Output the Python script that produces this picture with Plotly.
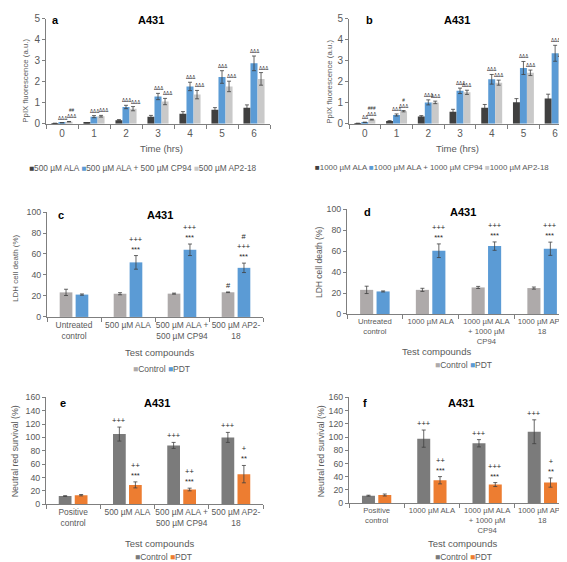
import plotly.graph_objects as go

W, H = 567, 562
FONT = "Liberation Sans, Arial, sans-serif"
TXT = "#595959"
AXC = "#7f7f7f"
ERR = "#404040"

# ---------------- data ----------------
time_cats = ["0", "1", "2", "3", "4", "5", "6"]

a_names = ["500 µM ALA", "500 µM ALA + 500 µM CP94", "500 µM AP2-18"]
a_ala = [0.02, 0.05, 0.17, 0.34, 0.48, 0.67, 0.77]
a_ala_err = [0.01, 0.01, 0.03, 0.06, 0.10, 0.10, 0.13]
a_cp94 = [0.05, 0.34, 0.80, 1.30, 1.78, 2.23, 2.88]
a_cp94_err = [0.01, 0.05, 0.08, 0.15, 0.20, 0.30, 0.35]
a_ap2 = [0.10, 0.36, 0.72, 1.06, 1.39, 1.78, 2.14]
a_ap2_err = [0.01, 0.04, 0.10, 0.15, 0.20, 0.25, 0.30]
a_sig_cp94 = ["ΔΔΔ", "ΔΔΔ", "ΔΔΔ", "ΔΔΔ", "ΔΔΔ", "ΔΔΔ", "ΔΔΔ"]
a_sig_ap2 = ["##<br>ΔΔΔ", "ΔΔΔ", "ΔΔΔ", "ΔΔΔ", "ΔΔΔ", "ΔΔΔ", "ΔΔΔ"]

b_names = ["1000 µM ALA", "1000 µM ALA + 1000 µM CP94", "1000 µM AP2-18"]
b_ala = [0.02, 0.13, 0.35, 0.57, 0.76, 1.03, 1.21]
b_ala_err = [0.01, 0.02, 0.04, 0.12, 0.16, 0.17, 0.20]
b_cp94 = [0.07, 0.42, 1.02, 1.57, 2.12, 2.66, 3.36]
b_cp94_err = [0.01, 0.05, 0.12, 0.13, 0.23, 0.31, 0.38]
b_ap2 = [0.20, 0.60, 1.02, 1.50, 1.96, 2.43, 2.86]
b_ap2_err = [0.02, 0.03, 0.06, 0.10, 0.12, 0.13, 0.20]
b_sig_cp94 = ["ΔΔ", "ΔΔΔ", "ΔΔΔ", "ΔΔΔ", "ΔΔΔ", "ΔΔΔ", "ΔΔΔ"]
b_sig_ap2 = ["###<br>ΔΔΔ", "#<br>ΔΔΔ", "ΔΔΔ", "ΔΔΔ", "ΔΔΔ", "ΔΔΔ", "ΔΔΔ"]

grp_names = ["Control", "PDT"]

c_cats = ["Untreated<br>control", "500 µM ALA", "500 µM ALA +<br>500 µM CP94", "500 µM AP2-<br>18"]
c_ctrl = [23.4, 22.1, 22.2, 23.5]
c_ctrl_err = [3.0, 1.0, 0.5, 0.3]
c_pdt = [21.3, 52.0, 64.0, 46.8]
c_pdt_err = [0.6, 6.5, 5.5, 4.5]
c_sig_ctrl = ["", "", "", "#"]
c_sig_pdt = ["", "+++<br>***", "+++<br>***", "#<br>+++<br>***"]

d_cats = ["Untreated<br>control", "1000 µM ALA", "1000 µM ALA<br>+ 1000 µM<br>CP94", "1000 µM AP2-<br>18"]
d_ctrl = [23.0, 23.0, 25.3, 24.7]
d_ctrl_err = [3.5, 1.5, 1.0, 1.0]
d_pdt = [21.5, 60.3, 64.7, 62.2]
d_pdt_err = [0.5, 6.5, 4.0, 6.3]
d_sig_ctrl = ["", "", "", ""]
d_sig_pdt = ["", "+++<br>***", "+++<br>***", "+++<br>***"]

e_cats = ["Positive<br>control", "500 µM ALA", "500 µM ALA +<br>500 µM CP94", "500 µM AP2-<br>18"]
e_ctrl = [12.2, 105.0, 88.0, 100.0]
e_ctrl_err = [0.5, 10.5, 4.5, 7.5]
e_pdt = [13.5, 28.9, 22.0, 45.0]
e_pdt_err = [1.0, 4.5, 2.0, 13.0]
e_sig_ctrl = ["", "+++", "+++", "+++"]
e_sig_pdt = ["", "++<br>***", "++<br>***", "+<br>**"]

f_cats = ["Positive<br>control", "1000 µM ALA", "1000 µM ALA<br>+ 1000 µM<br>CP94", "1000 µM AP2-<br>18"]
f_ctrl = [11.4, 97.6, 90.6, 108.0]
f_ctrl_err = [0.7, 13.0, 5.5, 18.0]
f_pdt = [12.4, 34.7, 28.2, 31.2]
f_pdt_err = [1.5, 5.5, 3.0, 7.0]
f_sig_ctrl = ["", "+++", "+++", "+++"]
f_sig_pdt = ["", "++<br>***", "+++<br>***", "+<br>**"]

# ---------------- styles ----------------
C_DARK, C_BLUE, C_LGRAY = "#404040", "#5B9BD5", "#C9C9C9"
C_WGRAY, C_ORANGE, C_MGRAY = "#AEAAAA", "#ED7D31", "#7B7B7B"

fig = go.Figure()
layout = dict(width=W, height=H, margin=dict(l=0, r=0, t=0, b=0),
              paper_bgcolor="white", plot_bgcolor="white",
              barmode="overlay", showlegend=False,
              font=dict(family=FONT, color=TXT))


def ax_names(k):
    return ("x", "y") if k == 1 else (f"x{k}", f"y{k}")


def set_axes(k, x0, x1, ytop, ybot, yrange, dtick, tsize=9, xsize=None):
    xn, yn = ax_names(k)
    xkey = "xaxis" if k == 1 else f"xaxis{k}"
    ykey = "yaxis" if k == 1 else f"yaxis{k}"
    layout[xkey] = dict(domain=[x0 / W, x1 / W], anchor=yn, type="category",
                        tickson="boundaries", ticks="outside", ticklen=4,
                        tickcolor=AXC, showline=True, linecolor=AXC, linewidth=1,
                        showgrid=False, zeroline=False, tickangle=0,
                        tickfont=dict(size=xsize or tsize, color=TXT, family=FONT))
    layout[ykey] = dict(domain=[1 - ybot / H, 1 - ytop / H], anchor=xn,
                        range=yrange, dtick=dtick, ticks="outside", ticklen=3,
                        tickcolor=AXC, showline=True, linecolor=AXC, linewidth=1,
                        showgrid=False, zeroline=False,
                        tickfont=dict(size=tsize, color=TXT, family=FONT))


def add_bars(k, cats, vals, errs, color, name, off, width):
    xn, yn = ax_names(k)
    fig.add_trace(go.Bar(x=cats, y=vals, name=name, xaxis=xn, yaxis=yn,
                         marker=dict(color=color, line=dict(width=0)),
                         width=width, offset=off,
                         error_y=dict(type="data", array=errs, color=ERR,
                                      thickness=0.8, width=2)))


def add_marks(k, marks, vals, errs, center, size, xshift=0):
    xn, yn = ax_names(k)
    for i, (m, v, e) in enumerate(zip(marks, vals, errs)):
        if not m:
            continue
        fig.add_annotation(x=i + center, y=v + e, xref=xn, yref=yn, text=m,
                           showarrow=False, yanchor="bottom", xshift=xshift,
                           font=dict(size=size, color="#262626", family=FONT))


def txt(px, py, text, size, color=TXT, angle=0):
    fig.add_annotation(x=px / W, y=1 - py / H, xref="paper", yref="paper",
                       text=text, showarrow=False, textangle=angle,
                       xanchor="center", yanchor="middle",
                       font=dict(size=size, color=color, family=FONT))


def legend_text(names, colors):
    return " ".join(f'<span style="color:{c}">■</span>{n}' for n, c in zip(names, colors))


# ---------------- panel a ----------------
bw3 = 0.22
set_axes(1, 38, 262, 6, 113, [0, 5], 1, 10)
add_bars(1, time_cats, a_ala, a_ala_err, C_DARK, a_names[0], -0.33, bw3)
add_bars(1, time_cats, a_cp94, a_cp94_err, C_BLUE, a_names[1], -0.11, bw3)
add_bars(1, time_cats, a_ap2, a_ap2_err, C_LGRAY, a_names[2], 0.11, bw3)
add_marks(1, a_sig_cp94, a_cp94, a_cp94_err, 0.0, 4.6)
add_marks(1, a_sig_ap2, a_ap2, a_ap2_err, 0.22, 4.6, xshift=2)
txt(47, 7, "<b>a</b>", 11, "#000")
txt(143, 7, "<b>A431</b>", 11, "#000")
txt(18, 69, "PpIX fluorescence (a.u.)", 7.8, angle=-90)
txt(153, 138, "Time (hrs)", 9.5)
txt(135, 158, legend_text(a_names, [C_DARK, C_BLUE, C_LGRAY]), 8.3)

# ---------------- panel b ----------------
set_axes(2, 341, 563, 6, 113, [0, 5], 1, 10)
add_bars(2, time_cats, b_ala, b_ala_err, C_DARK, b_names[0], -0.33, bw3)
add_bars(2, time_cats, b_cp94, b_cp94_err, C_BLUE, b_names[1], -0.11, bw3)
add_bars(2, time_cats, b_ap2, b_ap2_err, C_LGRAY, b_names[2], 0.11, bw3)
add_marks(2, b_sig_cp94, b_cp94, b_cp94_err, 0.0, 4.6)
add_marks(2, b_sig_ap2, b_ap2, b_ap2_err, 0.22, 4.6, xshift=0)
txt(361, 7, "<b>b</b>", 11, "#000")
txt(449, 7, "<b>A431</b>", 11, "#000")
txt(322, 70, "PpIX fluorescence (a.u.)", 7.8, angle=-90)
txt(449, 138, "Time (hrs)", 9.5)
txt(424, 158, legend_text(b_names, [C_DARK, C_BLUE, C_LGRAY]), 7.9)

# ---------------- panels c-f ----------------
bw2 = 0.235
o1, o2 = -0.265, 0.03
c1, c2 = o1 + bw2 / 2, o2 + bw2 / 2

set_axes(3, 39, 255, 203, 310, [0, 100], 20, 8.8, 8.4)
add_bars(3, c_cats, c_ctrl, c_ctrl_err, C_WGRAY, grp_names[0], o1, bw2)
add_bars(3, c_cats, c_pdt, c_pdt_err, C_BLUE, grp_names[1], o2, bw2)
add_marks(3, c_sig_ctrl, c_ctrl, c_ctrl_err, c1, 7.5)
add_marks(3, c_sig_pdt, c_pdt, c_pdt_err, c2, 7.5)
txt(53, 206, "<b>c</b>", 11, "#000")
txt(152, 206, "<b>A431</b>", 11, "#000")
txt(8, 261, "LDH cell death (%)", 8, angle=-90)
txt(151, 346, "Test compounds", 9.5)
txt(153, 363, legend_text(grp_names, [C_WGRAY, C_BLUE]), 8.5)

set_axes(4, 339, 562, 200, 307, [0, 100], 20, 8.8, 7.7)
add_bars(4, d_cats, d_ctrl, d_ctrl_err, C_WGRAY, grp_names[0], o1, bw2)
add_bars(4, d_cats, d_pdt, d_pdt_err, C_BLUE, grp_names[1], o2, bw2)
add_marks(4, d_sig_ctrl, d_ctrl, d_ctrl_err, c1, 7.5)
add_marks(4, d_sig_pdt, d_pdt, d_pdt_err, c2, 7.5)
txt(359, 203, "<b>d</b>", 11, "#000")
txt(455, 203, "<b>A431</b>", 11, "#000")
txt(311, 254, "LDH cell death (%)", 8.5, angle=-90)
txt(428, 345, "Test compounds", 9.5)
txt(455, 359, legend_text(grp_names, [C_WGRAY, C_BLUE]), 8.5)

set_axes(5, 38, 255, 392, 501, [0, 160], 20, 8.8, 8.4)
add_bars(5, e_cats, e_ctrl, e_ctrl_err, C_MGRAY, grp_names[0], o1, bw2)
add_bars(5, e_cats, e_pdt, e_pdt_err, C_ORANGE, grp_names[1], o2, bw2)
add_marks(5, e_sig_ctrl, e_ctrl, e_ctrl_err, c1, 7.5)
add_marks(5, e_sig_pdt, e_pdt, e_pdt_err, c2, 7.5)
txt(55, 398, "<b>e</b>", 11, "#000")
txt(149, 398, "<b>A431</b>", 11, "#000")
txt(7, 447, "Neutral red survival (%)", 8.8, angle=-90)
txt(151, 541, "Test compounds", 9.5)
txt(155, 555, legend_text(grp_names, [C_MGRAY, C_ORANGE]), 8.5)

set_axes(6, 341, 562, 392, 500, [0, 160], 20, 8.8, 7.7)
add_bars(6, f_cats, f_ctrl, f_ctrl_err, C_MGRAY, grp_names[0], o1, bw2)
add_bars(6, f_cats, f_pdt, f_pdt_err, C_ORANGE, grp_names[1], o2, bw2)
add_marks(6, f_sig_ctrl, f_ctrl, f_ctrl_err, c1, 7.5)
add_marks(6, f_sig_pdt, f_pdt, f_pdt_err, c2, 7.5)
txt(357, 398, "<b>f</b>", 11, "#000")
txt(453, 398, "<b>A431</b>", 11, "#000")
txt(313, 447, "Neutral red survival (%)", 8.8, angle=-90)
txt(454, 541, "Test compounds", 9.5)
txt(455, 555, legend_text(grp_names, [C_MGRAY, C_ORANGE]), 8.5)

fig.update_layout(**layout)
fig.write_html("out.html")
